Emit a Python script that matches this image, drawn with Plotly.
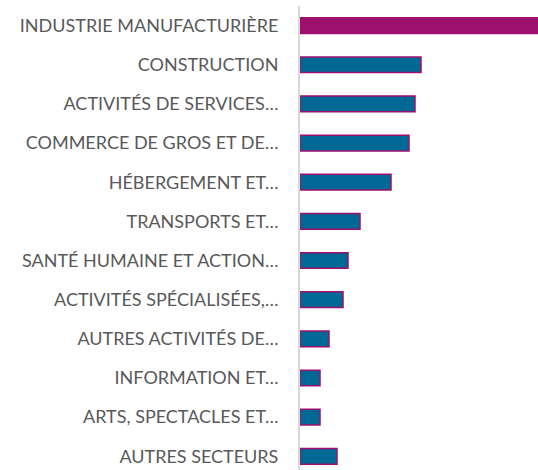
import plotly.graph_objects as go

categories = [
    "INDUSTRIE MANUFACTURIÈRE",
    "CONSTRUCTION",
    "ACTIVITÉS DE SERVICES…",
    "COMMERCE DE GROS ET DE…",
    "HÉBERGEMENT ET…",
    "TRANSPORTS ET…",
    "SANTÉ HUMAINE ET ACTION…",
    "ACTIVITÉS SPÉCIALISÉES,…",
    "AUTRES ACTIVITÉS DE…",
    "INFORMATION ET…",
    "ARTS, SPECTACLES ET…",
    "AUTRES SECTEURS",
]
values = [245, 121, 115, 109, 91, 60, 48, 43, 29, 20, 20, 37]

MAGENTA = "#9E0F6E"
BLUE = "#006894"

colors = [MAGENTA] + [BLUE] * (len(values) - 1)

fig = go.Figure(
    go.Bar(
        x=values,
        y=categories,
        orientation="h",
        marker=dict(color=colors, line=dict(color=MAGENTA, width=1.5)),
        hoverinfo="x+y",
    )
)

fig.update_layout(
    width=538,
    height=470,
    margin=dict(l=300, r=0, t=6, b=0),
    plot_bgcolor="white",
    paper_bgcolor="white",
    bargap=0.6,
    showlegend=False,
    font=dict(family="Lato, Carlito, sans-serif", size=18, color="#595959"),
)
fig.update_xaxes(
    range=[0, 238],
    showgrid=False,
    zeroline=False,
    showticklabels=False,
    showline=False,
)
fig.update_yaxes(
    type="category",
    range=[11.35, -0.5],
    showgrid=False,
    zeroline=False,
    showline=True,
    linecolor="#D9D9D9",
    linewidth=2,
    ticks="",
    ticklabelstandoff=16,
    tickfont=dict(size=18, color="#595959"),
)

fig.write_html(
    "out.html",
    config={"displayModeBar": False},
    post_script="document.body.style.margin='0';document.body.style.overflow='hidden';",
)
